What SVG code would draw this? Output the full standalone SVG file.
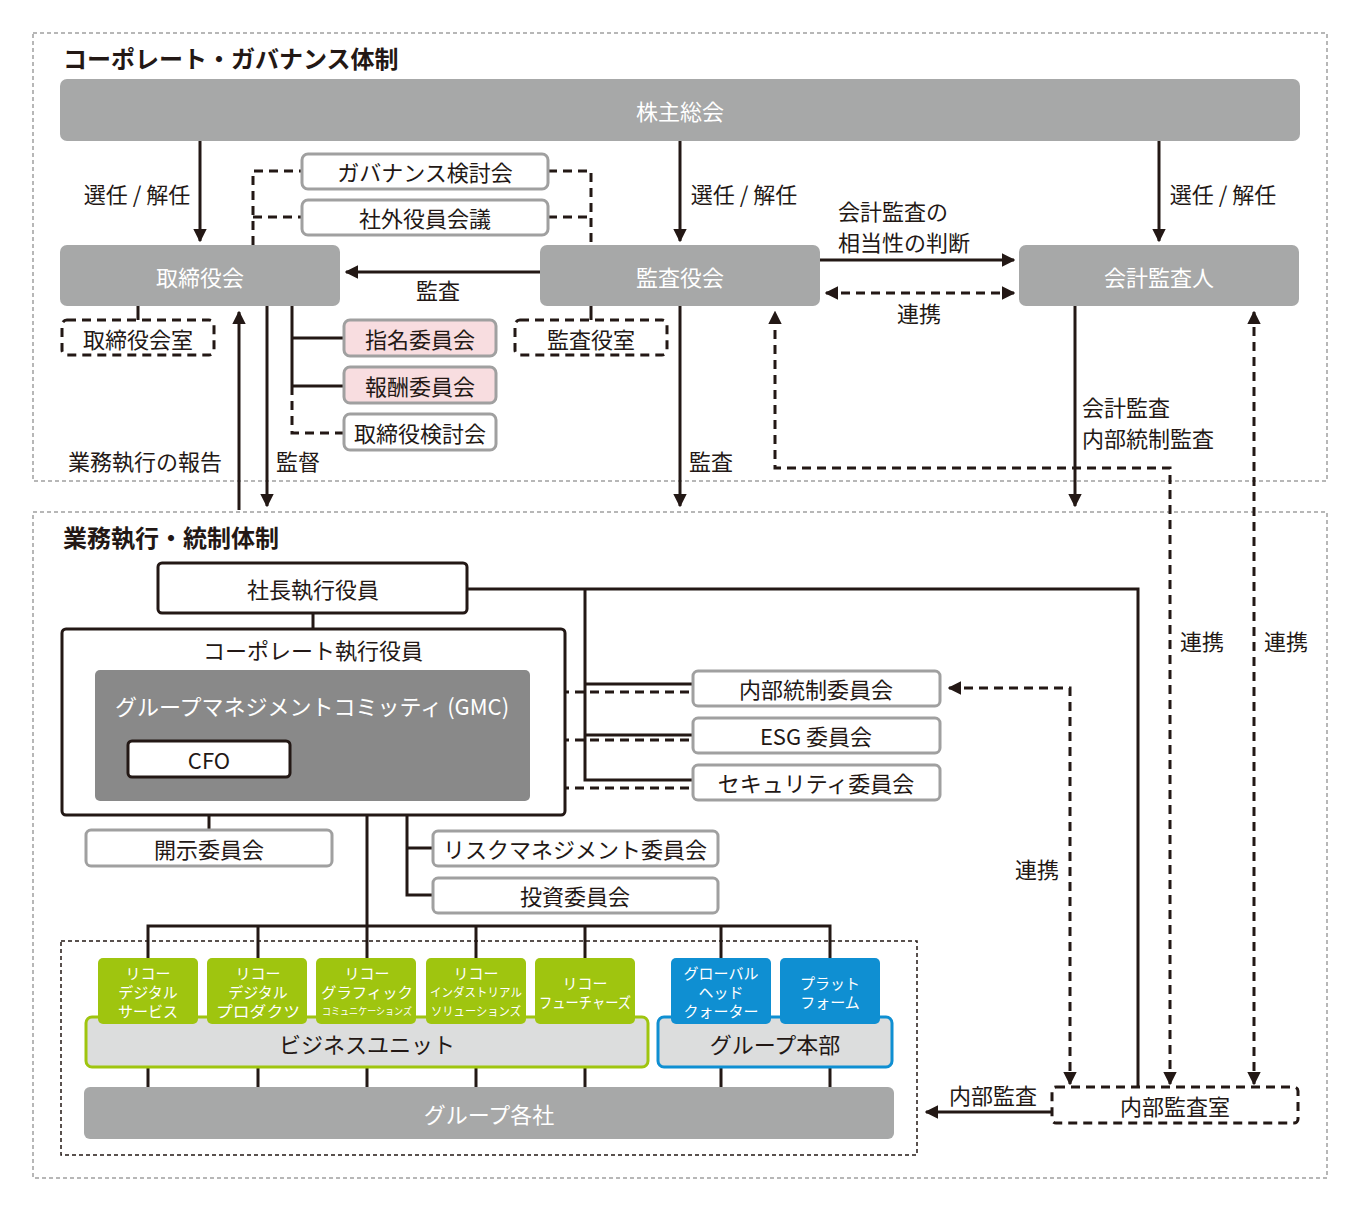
<svg xmlns="http://www.w3.org/2000/svg" width="1360" height="1211" viewBox="0 0 1360 1211">
<style>
text{font-family:"Noto Sans CJK JP","Liberation Sans",sans-serif;text-anchor:middle;dominant-baseline:central}
.t{font-size:22px;fill:#231815}
.w{font-size:22px;fill:#fff}
.h{font-size:24px;font-weight:bold;fill:#231815;text-anchor:start}
.s{font-size:15px;fill:#fff}
.gray{fill:#a7a8a8}
.wb{fill:#fff;stroke:#a0a0a0;stroke-width:3}
.pk{fill:#f8dde0;stroke:#a0a0a0;stroke-width:3}
.l{stroke:#231815;stroke-width:3;fill:none}
.d{stroke:#231815;stroke-width:3;fill:none;stroke-dasharray:9 6}
.frame{fill:none;stroke:#a0a0a0;stroke-width:1.5;stroke-dasharray:4 3}
.grn{fill:#9fc50f}
.blu{fill:#0f8fd2}
</style>
<defs>
<marker id="a" viewBox="0 0 10 10" refX="9" refY="5" markerWidth="4.5" markerHeight="4.5" orient="auto-start-reverse"><path d="M0,0L10,5L0,10z" fill="#231815"/></marker>
</defs>
<rect class="frame" x="33" y="33" width="1294" height="448"/>
<rect class="frame" x="33" y="512" width="1294" height="666"/>
<text class="h" x="63" y="57">コーポレート・ガバナンス体制</text>
<text class="h" x="63" y="536">業務執行・統制体制</text>

<g id="connectors">
<path class="l" d="M200,141V241" marker-end="url(#a)"/>
<path class="l" d="M680,141V241" marker-end="url(#a)"/>
<path class="l" d="M1159,141V241" marker-end="url(#a)"/>
<path class="l" d="M540,272H346" marker-end="url(#a)"/>
<path class="l" d="M820,260H1014" marker-end="url(#a)"/>
<path class="d" d="M826,293H1014" marker-start="url(#a)" marker-end="url(#a)"/>
<path class="d" d="M253,245V171H302M548,171H591V245M253,217H302M548,217H591"/>
<path class="l" d="M138,306V320M591,306V320"/>
<path class="l" d="M292,306V386M292,338H344M292,386H344"/>
<path class="d" d="M292,386V433H344"/>
<path class="l" d="M239,510V312" marker-end="url(#a)"/>
<path class="l" d="M267,306V506" marker-end="url(#a)"/>
<path class="l" d="M680,306V506" marker-end="url(#a)"/>
<path class="l" d="M1075,306V506" marker-end="url(#a)"/>
<path class="d" d="M1170,1084V468H775V312" marker-start="url(#a)" marker-end="url(#a)"/>
<path class="d" d="M1254,312V1084" marker-start="url(#a)" marker-end="url(#a)"/>
<path class="d" d="M949,688H1070V1084" marker-start="url(#a)" marker-end="url(#a)"/>
<path class="l" d="M1052,1112H926" marker-end="url(#a)"/>
<path class="l" d="M467,589H1138V1087"/>
<path class="l" d="M313,613V629"/>
<path class="l" d="M585,589V780H693M585,684H693M585,735H693"/>
<path class="d" d="M530,692H693M530,740H693M530,788H693"/>
<path class="l" d="M209,777V830"/>
<path class="l" d="M407,815V895H433M407,848H433"/>
<path class="l" d="M367,815V958M148,958V926H830V958M258,926V958M476,926V958M585,926V958M721,926V958"/>
<path class="l" d="M148,1068V1087M258,1068V1087M367,1068V1087M476,1068V1087M585,1068V1087M721,1068V1087M830,1068V1087"/>
</g>

<g id="kabunushi"><rect class="gray" x="60" y="79" width="1240" height="62" rx="7"/><text class="w" x="680" y="110">株主総会</text></g>
<g id="torishimariyakukai"><rect class="gray" x="60" y="245" width="280" height="61" rx="7"/><text class="w" x="200" y="276">取締役会</text></g>
<g id="kansayakukai"><rect class="gray" x="540" y="245" width="280" height="61" rx="7"/><text class="w" x="680" y="276">監査役会</text></g>
<g id="kaikeikansanin"><rect class="gray" x="1019" y="245" width="280" height="61" rx="7"/><text class="w" x="1159" y="276">会計監査人</text></g>
<g id="governance"><rect class="wb" x="302" y="154" width="246" height="35" rx="6"/><text class="t" x="425" y="171">ガバナンス検討会</text></g>
<g id="shagai"><rect class="wb" x="302" y="200" width="246" height="35" rx="6"/><text class="t" x="425" y="217">社外役員会議</text></g>
<g id="torishitsu"><rect class="d" x="62" y="320" width="152" height="35" rx="5"/><text class="t" x="138" y="338">取締役会室</text></g>
<g id="kansashitsu"><rect class="d" x="515" y="320" width="152" height="35" rx="5"/><text class="t" x="591" y="338">監査役室</text></g>
<g id="shimei"><rect class="pk" x="344" y="320" width="152" height="36" rx="6"/><text class="t" x="420" y="338">指名委員会</text></g>
<g id="hoshu"><rect class="pk" x="344" y="367" width="152" height="36" rx="6"/><text class="t" x="420" y="385">報酬委員会</text></g>
<g id="torikentou"><rect class="wb" x="344" y="414" width="152" height="36" rx="6"/><text class="t" x="420" y="432">取締役検討会</text></g>

<text class="t" x="137" y="193">選任 / 解任</text>
<text class="t" x="744" y="193">選任 / 解任</text>
<text class="t" x="1223" y="193">選任 / 解任</text>
<text class="t" x="438" y="289">監査</text>
<text class="t" x="838" y="210" style="text-anchor:start">会計監査の</text>
<text class="t" x="838" y="241" style="text-anchor:start">相当性の判断</text>
<text class="t" x="919" y="312">連携</text>
<text class="t" x="145" y="460">業務執行の報告</text>
<text class="t" x="298" y="460">監督</text>
<text class="t" x="711" y="460">監査</text>
<text class="t" x="1082" y="406" style="text-anchor:start">会計監査</text>
<text class="t" x="1082" y="437" style="text-anchor:start">内部統制監査</text>
<text class="t" x="1202" y="640">連携</text>
<text class="t" x="1286" y="640">連携</text>
<text class="t" x="1037" y="868">連携</text>
<text class="t" x="993" y="1094">内部監査</text>

<g id="shacho"><rect x="158" y="563" width="309" height="50" rx="4" fill="#fff" stroke="#231815" stroke-width="3"/><text class="t" x="313" y="588">社長執行役員</text></g>
<g id="corporate"><rect x="62" y="629" width="503" height="186" rx="4" fill="#fff" stroke="#231815" stroke-width="3"/><text class="t" x="313" y="649">コーポレート執行役員</text></g>
<g id="gmc"><rect x="95" y="670" width="435" height="131" rx="5" fill="#898989"/><text class="w" x="312" y="705">グループマネジメントコミッティ (GMC)</text></g>
<g id="cfo"><rect x="128" y="741" width="162" height="36" rx="4" fill="#fff" stroke="#231815" stroke-width="3"/><text class="t" x="209" y="759">CFO</text></g>
<g id="kaiji"><rect class="wb" x="86" y="830" width="246" height="36" rx="5"/><text class="t" x="209" y="848">開示委員会</text></g>
<g id="naibutousei"><rect class="wb" x="693" y="671" width="247" height="35" rx="5"/><text class="t" x="816" y="688">内部統制委員会</text></g>
<g id="esg"><rect class="wb" x="693" y="718" width="247" height="35" rx="5"/><text class="t" x="816" y="735">ESG 委員会</text></g>
<g id="security"><rect class="wb" x="693" y="765" width="247" height="35" rx="5"/><text class="t" x="816" y="782">セキュリティ委員会</text></g>
<g id="risk"><rect class="wb" x="433" y="831" width="285" height="35" rx="5"/><text class="t" x="575" y="848">リスクマネジメント委員会</text></g>
<g id="toushi"><rect class="wb" x="433" y="878" width="285" height="35" rx="5"/><text class="t" x="575" y="895">投資委員会</text></g>

<rect class="frame" x="61" y="941" width="856" height="214" style="stroke:#231815"/>
<g id="bu"><rect x="86" y="1017" width="562" height="50" rx="6" fill="#dcdddd" stroke="#9fc50f" stroke-width="3"/><text class="t" x="367" y="1043">ビジネスユニット</text></g>
<g id="honbu"><rect x="658" y="1017" width="234" height="50" rx="6" fill="#dcdddd" stroke="#0f8fd2" stroke-width="3"/><text class="t" x="775" y="1043">グループ本部</text></g>
<g id="bu1"><rect class="grn" x="98" y="958" width="100" height="66" rx="5"/><text class="s" x="148" y="972">リコー</text><text class="s" x="148" y="991">デジタル</text><text class="s" x="148" y="1010">サービス</text></g>
<g id="bu2"><rect class="grn" x="207" y="958" width="100" height="66" rx="5"/><text class="s" x="258" y="972">リコー</text><text class="s" x="258" y="991">デジタル</text><text class="s" x="258" y="1010" textLength="84" lengthAdjust="spacingAndGlyphs">プロダクツ</text></g>
<g id="bu3"><rect class="grn" x="316" y="958" width="100" height="66" rx="5"/><text class="s" x="367" y="972">リコー</text><text class="s" x="367" y="991" textLength="92" lengthAdjust="spacingAndGlyphs">グラフィック</text><text class="s" x="367" y="1010" style="font-size:10px" textLength="90" lengthAdjust="spacingAndGlyphs">コミュニケーションズ</text></g>
<g id="bu4"><rect class="grn" x="426" y="958" width="100" height="66" rx="5"/><text class="s" x="476" y="972">リコー</text><text class="s" x="476" y="991" style="font-size:12px" textLength="92" lengthAdjust="spacingAndGlyphs">インダストリアル</text><text class="s" x="476" y="1010" style="font-size:12px" textLength="90" lengthAdjust="spacingAndGlyphs">ソリューションズ</text></g>
<g id="bu5"><rect class="grn" x="535" y="958" width="100" height="66" rx="5"/><text class="s" x="585" y="982">リコー</text><text class="s" x="585" y="1001" textLength="92" lengthAdjust="spacingAndGlyphs">フューチャーズ</text></g>
<g id="ghq"><rect class="blu" x="671" y="958" width="100" height="66" rx="5"/><text class="s" x="721" y="972">グローバル</text><text class="s" x="721" y="991">ヘッド</text><text class="s" x="721" y="1010">クォーター</text></g>
<g id="platform"><rect class="blu" x="780" y="958" width="100" height="66" rx="5"/><text class="s" x="830" y="982">プラット</text><text class="s" x="830" y="1001">フォーム</text></g>
<g id="kakusha"><rect class="gray" x="84" y="1087" width="810" height="52" rx="6"/><text class="w" x="489" y="1113">グループ各社</text></g>
<g id="naibukansashitsu"><rect class="d" x="1052" y="1087" width="246" height="36" rx="4"/><text class="t" x="1175" y="1105">内部監査室</text></g>
</svg>
